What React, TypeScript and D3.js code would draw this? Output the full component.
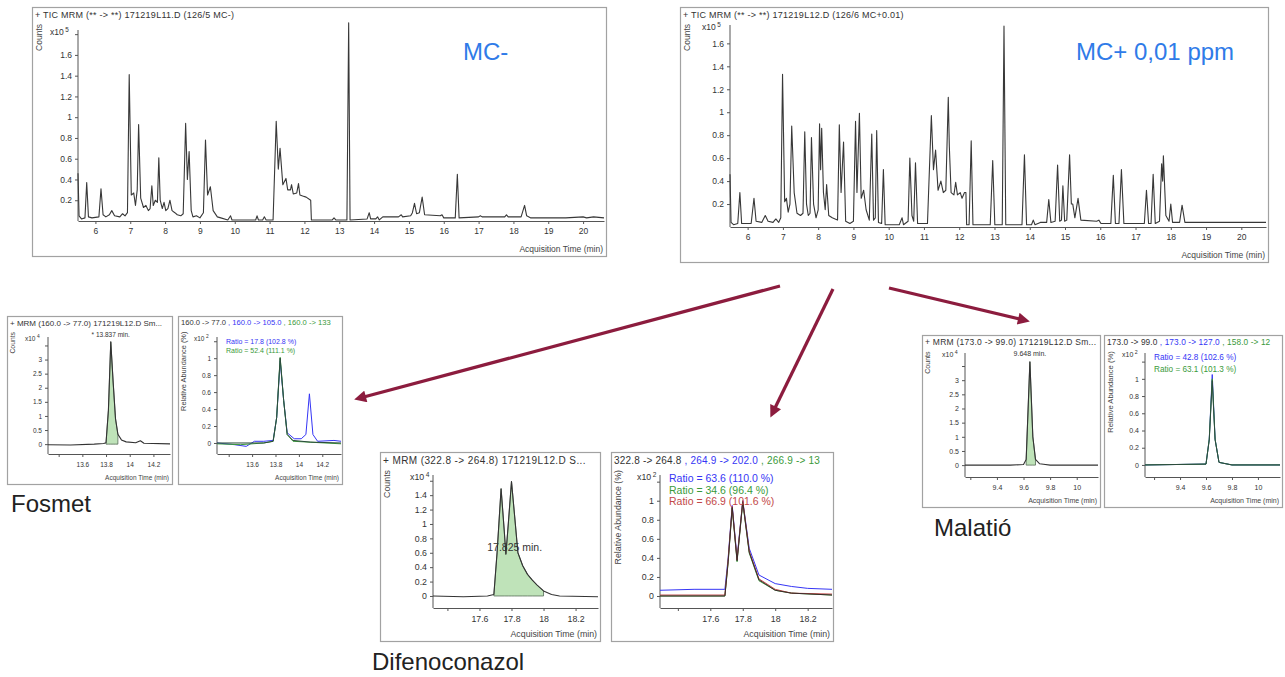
import React, { useRef, useEffect } from "react";
import * as d3 from "d3";

type Pt = [number, number];

// TIC traces: acquisition time (min), counts (x10^5)
const ticMinus: Pt[] = [
  [5.5, 0.46], [5.53, 0.05], [5.6, 0.02], [5.7, 0.03], [5.75, 0.37], [5.8, 0.04], [5.9, 0.03], [6.1, 0.04], [6.16, 0.31], [6.22, 0.06],
  [6.3, 0.04], [6.4, 0.06], [6.47, 0.1], [6.55, 0.05], [6.7, 0.04], [6.78, 0.07], [6.85, 0.05], [6.92, 0.08], [6.97, 1.41], [7.03, 0.25],
  [7.1, 0.27], [7.15, 0.15], [7.2, 0.3], [7.24, 0.93], [7.3, 0.22], [7.38, 0.13], [7.45, 0.15], [7.52, 0.1], [7.57, 0.12], [7.62, 0.34],
  [7.66, 0.15], [7.72, 0.2], [7.78, 0.18], [7.82, 0.61], [7.86, 0.2], [7.92, 0.12], [7.97, 0.18], [8.02, 0.1], [8.08, 0.12], [8.14, 0.2],
  [8.2, 0.1], [8.28, 0.08], [8.35, 0.06], [8.45, 0.05], [8.52, 0.07], [8.59, 0.94], [8.64, 0.4], [8.69, 0.67], [8.75, 0.1], [8.8, 0.04],
  [8.9, 0.05], [9.0, 0.03], [9.1, 0.08], [9.16, 0.78], [9.22, 0.25], [9.3, 0.33], [9.38, 0.1], [9.5, 0.04], [9.6, 0.03], [9.8, 0.01],
  [9.88, 0.05], [9.92, 0.01], [10.6, 0.01], [10.64, 0.05], [10.68, 0.01], [10.8, 0.01], [10.85, 0.04], [10.9, 0.01], [11.1, 0.01],
  [11.19, 0.96], [11.25, 0.5], [11.3, 0.7], [11.38, 0.35], [11.47, 0.41], [11.52, 0.3], [11.6, 0.3], [11.63, 0.35], [11.68, 0.26],
  [11.78, 0.27], [11.83, 0.36], [11.87, 0.25], [11.95, 0.24], [12.05, 0.23], [12.18, 0.2], [12.2, 0.01], [12.8, 0.01], [12.85, 0.03],
  [12.9, 0.01], [13.22, 0.01], [13.27, 1.91], [13.31, 0.01], [13.8, 0.02], [13.86, 0.08], [13.9, 0.02], [14.05, 0.02], [14.1, 0.04],
  [14.15, 0.01], [14.25, 0.04], [14.7, 0.04], [14.78, 0.06], [14.82, 0.04], [15.05, 0.05], [15.1, 0.08], [15.16, 0.17], [15.22, 0.07],
  [15.3, 0.08], [15.38, 0.23], [15.45, 0.06], [15.9, 0.05], [15.95, 0.06], [16.0, 0.03], [16.33, 0.03], [16.39, 0.45], [16.44, 0.03],
  [17.0, 0.04], [17.05, 0.05], [17.1, 0.04], [17.75, 0.04], [17.8, 0.06], [17.85, 0.04], [18.22, 0.04], [18.32, 0.15], [18.38, 0.05],
  [18.5, 0.03], [19.5, 0.03], [20.0, 0.04], [20.1, 0.03], [20.3, 0.04], [20.6, 0.03],
];
const ticPlus: Pt[] = [
  [5.5, 0.46], [5.53, 0.04], [5.6, 0.02], [5.72, 0.03], [5.78, 0.3], [5.83, 0.03], [6.1, 0.03], [6.18, 0.25], [6.24, 0.05], [6.4, 0.04],
  [6.5, 0.1], [6.58, 0.05], [6.72, 0.04], [6.8, 0.07], [6.88, 0.04], [6.94, 0.08], [6.99, 1.33], [7.05, 0.22], [7.1, 0.25], [7.15, 0.13],
  [7.2, 0.2], [7.25, 0.88], [7.32, 0.3], [7.4, 0.12], [7.5, 0.1], [7.57, 0.12], [7.62, 0.83], [7.67, 0.2], [7.72, 0.1], [7.77, 0.12],
  [7.81, 0.78], [7.87, 0.2], [7.94, 0.08], [8.0, 0.15], [8.04, 0.9], [8.07, 0.5], [8.1, 0.86], [8.15, 0.3], [8.2, 0.15], [8.24, 0.37],
  [8.3, 0.1], [8.4, 0.08], [8.48, 0.07], [8.55, 0.06], [8.6, 0.89], [8.65, 0.3], [8.72, 0.74], [8.78, 0.05], [8.9, 0.03], [9.0, 0.05],
  [9.06, 0.92], [9.1, 0.3], [9.17, 0.99], [9.22, 0.25], [9.29, 0.32], [9.36, 0.15], [9.45, 0.06], [9.52, 0.81], [9.57, 0.06], [9.62, 0.08],
  [9.66, 0.84], [9.71, 0.04], [9.8, 0.03], [9.85, 0.5], [9.9, 0.02], [10.3, 0.02], [10.38, 0.08], [10.42, 0.02], [10.55, 0.05], [10.6, 0.6],
  [10.66, 0.1], [10.71, 0.05], [10.76, 0.56], [10.82, 0.03], [11.1, 0.03], [11.21, 0.97], [11.27, 0.5], [11.33, 0.67], [11.4, 0.32],
  [11.48, 0.4], [11.55, 0.3], [11.62, 0.32], [11.69, 1.13], [11.72, 0.7], [11.77, 0.3], [11.85, 0.28], [11.9, 0.39], [11.95, 0.28],
  [12.03, 0.3], [12.08, 0.25], [12.15, 0.3], [12.19, 0.3], [12.21, 0.02], [12.28, 0.02], [12.34, 0.75], [12.39, 0.02], [12.88, 0.02],
  [12.95, 0.58], [13.01, 0.02], [13.22, 0.02], [13.27, 1.75], [13.32, 0.02], [13.78, 0.02], [13.85, 0.63], [13.91, 0.02], [14.05, 0.02],
  [14.1, 0.06], [14.15, 0.02], [14.3, 0.04], [14.48, 0.04], [14.54, 0.24], [14.6, 0.04], [14.72, 0.05], [14.79, 0.54], [14.85, 0.05],
  [14.9, 0.06], [14.94, 0.36], [14.99, 0.05], [15.05, 0.06], [15.13, 0.63], [15.18, 0.2], [15.22, 0.2], [15.28, 0.08], [15.37, 0.25],
  [15.45, 0.06], [15.9, 0.05], [15.96, 0.06], [16.02, 0.03], [16.3, 0.03], [16.37, 0.45], [16.43, 0.03], [16.53, 0.03], [16.6, 0.5],
  [16.67, 0.03], [17.25, 0.03], [17.31, 0.32], [17.37, 0.03], [17.44, 0.03], [17.5, 0.46], [17.56, 0.03], [17.68, 0.05], [17.74, 0.55],
  [17.77, 0.4], [17.79, 0.62], [17.86, 0.1], [17.95, 0.05], [18.0, 0.2], [18.05, 0.04], [18.25, 0.04], [18.32, 0.19], [18.4, 0.04],
  [20.7, 0.04],
];
const ticTimeTicks = [6, 7, 8, 9, 10, 11, 12, 13, 14, 15, 16, 17, 18, 19, 20];
const ticCountTicks = [0.2, 0.4, 0.6, 0.8, 1, 1.2, 1.4, 1.6];

// Fosmet (x10^4 counts / x10^2 %)
const fosmetQuant: Pt[] = [
  [13.31, -0.02], [13.5, -0.03], [13.7, 0], [13.78, 0.02], [13.8, 0.05], [13.82, 1.2], [13.84, 3.63], [13.86, 2.2], [13.88, 0.9],
  [13.9, 0.35], [13.93, 0.15], [13.97, 0.08], [14.05, 0.05], [14.09, 0.12], [14.12, 0.03], [14.34, 0.01],
];
const fosmetRel: Pt[] = [
  [13.3, 0], [13.7, 0], [13.78, 0.02], [13.81, 0.3], [13.84, 1.0], [13.87, 0.5], [13.9, 0.1], [13.95, 0.03], [14.1, 0.01], [14.36, 0],
];
const fosmetQ1: Pt[] = [
  [13.3, 0], [13.45, -0.02], [13.55, -0.04], [13.62, 0.02], [13.7, 0.02], [13.78, 0.03], [13.81, 0.3], [13.84, 0.97], [13.87, 0.5],
  [13.9, 0.12], [13.96, 0.05], [14.02, 0.05], [14.06, 0.1], [14.09, 0.58], [14.12, 0.1], [14.16, 0.02], [14.3, 0.03], [14.36, 0.02],
];
const fosmetQ2: Pt[] = [
  [13.3, -0.01], [13.5, -0.02], [13.7, 0], [13.78, 0.02], [13.81, 0.3], [13.84, 1.01], [13.87, 0.5], [13.9, 0.1], [13.95, 0.02], [14.36, -0.01],
];
const fosmetTimeTicks = [13.6, 13.8, 14, 14.2];

// Difenoconazol
const difenQuant: Pt[] = [
  [17.31, 0], [17.5, -0.01], [17.65, 0], [17.69, 0.02], [17.71, 0.6], [17.735, 1.49], [17.755, 0.9], [17.765, 0.58], [17.78, 1.0],
  [17.8, 1.59], [17.82, 1.1], [17.84, 0.6], [17.87, 0.42], [17.9, 0.3], [17.93, 0.22], [17.96, 0.15], [18.0, 0.07], [18.05, 0.02],
  [18.1, 0], [18.34, -0.01],
];
const difenRel: Pt[] = [
  [17.29, 0], [17.69, 0], [17.71, 0.36], [17.735, 0.93], [17.765, 0.37], [17.8, 0.99], [17.84, 0.46], [17.9, 0.17], [18.0, 0.06], [18.1, 0.03], [18.35, 0.01],
];
const difenQ1: Pt[] = [
  [17.29, 0.06], [17.5, 0.07], [17.69, 0.07], [17.71, 0.4], [17.735, 0.95], [17.765, 0.4], [17.8, 1.0], [17.84, 0.5], [17.9, 0.22],
  [18.0, 0.13], [18.1, 0.1], [18.2, 0.08], [18.35, 0.07],
];
const difenQ2: Pt[] = [
  [17.29, 0], [17.69, 0], [17.71, 0.35], [17.735, 0.92], [17.765, 0.36], [17.8, 0.98], [17.84, 0.45], [17.9, 0.16], [18.0, 0.06], [18.1, 0.03], [18.35, 0.01],
];
const difenQ3: Pt[] = [
  [17.29, 0.01], [17.69, 0.01], [17.71, 0.38], [17.735, 0.94], [17.765, 0.38], [17.8, 1.0], [17.84, 0.47], [17.9, 0.18], [18.0, 0.07], [18.1, 0.03], [18.35, 0.02],
];
const difenTimeTicks = [17.6, 17.8, 18, 18.2];

// Malatió
const malatQuant: Pt[] = [
  [9.16, 0], [9.5, 0], [9.6, 0.02], [9.62, 0.2], [9.648, 3.65], [9.67, 1.0], [9.69, 0.2], [9.72, 0.05], [9.75, 0.03], [9.8, 0], [10.16, 0],
];
const malatRel: Pt[] = [[9.13, 0], [9.6, 0.01], [9.625, 0.29], [9.648, 0.98], [9.67, 0.29], [9.7, 0.03], [9.8, 0], [10.17, 0]];
const malatQ1: Pt[] = [[9.13, 0], [9.6, 0.01], [9.625, 0.3], [9.648, 1.05], [9.67, 0.3], [9.7, 0.03], [9.8, 0], [10.17, 0]];
const malatQ2: Pt[] = [[9.13, 0], [9.6, 0.01], [9.625, 0.3], [9.648, 1.0], [9.67, 0.3], [9.7, 0.03], [9.8, 0], [10.17, 0]];
const malatTimeTicks = [9.4, 9.6, 9.8, 10];

const countTicks4 = [0, 0.5, 1, 1.5, 2, 2.5, 3];
const relTicks = [0, 0.2, 0.4, 0.6, 0.8, 1];
const difenCountTicks = [0, 0.2, 0.4, 0.6, 0.8, 1, 1.2, 1.4];

const FONT = "'Liberation Sans', Arial, sans-serif";
const DARK = "#333";
const BLUE = "#3535f5";
const GREEN = "#3a9a3a";
const RED = "#c24848";

const panels = [
  {
    box: [32, 7, 606, 256], plot: { left: 78, right: 604, top: 30, bottom: 221 },
    xDomain: [5.5, 20.6], yDomain: [0, 1.84], xTicks: ticTimeTicks, xBlank: [], yTicks: ticCountTicks, yBlank: [1.8],
    fs: 8.5, hs: 9, ls: 0.25, ts: 8.5, pad: 4, exp: "5", yTitle: "Counts",
    header: [{ t: "+ TIC MRM (** -> **) 171219L11.D (126/5 MC-)", c: DARK }],
    traces: [{ d: ticMinus, c: "#383838", w: 1.1 }],
  },
  {
    box: [680, 7, 1268, 262], plot: { left: 730, right: 1266, top: 25, bottom: 227 },
    xDomain: [5.5, 20.7], yDomain: [0, 1.76], xTicks: ticTimeTicks, xBlank: [], yTicks: ticCountTicks, yBlank: [],
    fs: 8.5, hs: 9, ls: 0.25, ts: 8.5, pad: 4, exp: "5", yTitle: "Counts",
    header: [{ t: "+ TIC MRM (** -> **) 171219L12.D (126/6 MC+0.01)", c: DARK }],
    traces: [{ d: ticPlus, c: "#383838", w: 1.1 }],
  },
  {
    box: [7, 316, 172, 484], plot: { left: 48, right: 170, top: 337, bottom: 454 },
    xDomain: [13.31, 14.34], yDomain: [-0.35, 3.8], xTicks: fosmetTimeTicks, xBlank: [13.4], yTicks: countTicks4, yBlank: [3.5],
    fs: 6.5, hs: 8, ls: 0, rs: 6.5, ts: 6.8, pad: 5, exp: "4", yTitle: "Counts",
    header: [{ t: "+ MRM (160.0 -> 77.0) 171219L12.D Sm...", c: DARK }],
    traces: [{ d: fosmetQuant, c: DARK, w: 1.1 }], fill: [13.8, 13.9],
    peak: { t: "* 13.837 min.", x: 13.84, y: 3.8 },
  },
  {
    box: [178, 316, 342, 484], plot: { left: 217, right: 341, top: 337, bottom: 454 },
    xDomain: [13.3, 14.36], yDomain: [-0.13, 1.25], xTicks: fosmetTimeTicks, xBlank: [13.4], yTicks: relTicks, yBlank: [1.2],
    fs: 6.5, hs: 7.6, ls: 0, rs: 7, ts: 7.4, pad: 5, exp: "2", yTitle: "Relative Abundance (%)",
    header: [{ t: "160.0 -> 77.0", c: DARK }, { t: " , 160.0 -> 105.0", c: BLUE }, { t: " , 160.0 -> 133", c: GREEN }],
    traces: [{ d: fosmetQ1, c: BLUE, w: 1 }, { d: fosmetQ2, c: GREEN, w: 1 }, { d: fosmetRel, c: "#2c4a3c", w: 1 }],
    ratios: [{ t: "Ratio = 17.8 (102.8 %)", c: BLUE }, { t: "Ratio = 52.4 (111.1 %)", c: GREEN }], rdy: 9,
  },
  {
    box: [380, 452, 600, 641], plot: { left: 433, right: 598, top: 475, bottom: 608 },
    xDomain: [17.31, 18.34], yDomain: [-0.167, 1.68], xTicks: difenTimeTicks, xBlank: [17.4], yTicks: difenCountTicks, yBlank: [1.6],
    fs: 8.8, hs: 10, ls: 0.4, rs: 10.5, ts: 8.8, pad: 5, exp: "4", yTitle: "Counts",
    header: [{ t: "+ MRM (322.8 -> 264.8) 171219L12.D S...", c: DARK }],
    traces: [{ d: difenQuant, c: DARK, w: 1.1 }], fill: [17.69, 18.0],
    peak: { t: "17.825 min.", x: 17.82, y: 0.62 },
  },
  {
    box: [611, 452, 833, 641], plot: { left: 660, right: 832, top: 475, bottom: 608 },
    xDomain: [17.29, 18.35], yDomain: [-0.126, 1.27], xTicks: difenTimeTicks, xBlank: [17.4], yTicks: relTicks, yBlank: [1.2],
    fs: 8.8, hs: 10, ls: 0.2, rs: 10.5, ts: 8.8, pad: 5, exp: "2", yTitle: "Relative Abundance (%)",
    header: [{ t: "322.8 -> 264.8", c: DARK }, { t: " , 264.9 -> 202.0", c: BLUE }, { t: " , 266.9 -> 13", c: GREEN }],
    traces: [{ d: difenQ1, c: BLUE, w: 1 }, { d: difenQ2, c: GREEN, w: 1 }, { d: difenQ3, c: RED, w: 1 }, { d: difenRel, c: "#3a2a2a", w: 1 }],
    ratios: [{ t: "Ratio = 63.6 (110.0 %)", c: BLUE }, { t: "Ratio = 34.6 (96.4 %)", c: GREEN }, { t: "Ratio = 66.9 (101.6 %)", c: RED }], rdy: 11.5,
  },
  {
    box: [922, 335, 1100, 507], plot: { left: 965, right: 1098, top: 353, bottom: 477 },
    xDomain: [9.16, 10.16], yDomain: [-0.42, 3.96], xTicks: malatTimeTicks, xBlank: [9.2], yTicks: countTicks4, yBlank: [3.5],
    fs: 7, hs: 8.5, ls: 0.25, rs: 7, ts: 7, pad: 5, exp: "4", yTitle: "Counts",
    header: [{ t: "+ MRM (173.0 -> 99.0) 171219L12.D Sm...", c: DARK }],
    traces: [{ d: malatQuant, c: DARK, w: 1.1 }], fill: [9.62, 9.69],
    peak: { t: "9.648 min.", x: 9.648, y: 3.85 },
  },
  {
    box: [1104, 335, 1282, 507], plot: { left: 1145, right: 1280, top: 353, bottom: 477 },
    xDomain: [9.13, 10.17], yDomain: [-0.14, 1.3], xTicks: malatTimeTicks, xBlank: [9.2], yTicks: relTicks, yBlank: [1.2],
    fs: 7, hs: 8.3, ls: 0.1, rs: 8.2, ts: 7.6, pad: 5, exp: "2", yTitle: "Relative Abundance (%)",
    header: [{ t: "173.0 -> 99.0", c: DARK }, { t: " , 173.0 -> 127.0", c: BLUE }, { t: " , 158.0 -> 12", c: GREEN }],
    traces: [{ d: malatQ1, c: BLUE, w: 1 }, { d: malatQ2, c: GREEN, w: 1 }, { d: malatRel, c: "#2c4a3c", w: 1 }],
    ratios: [{ t: "Ratio = 42.8 (102.6 %)", c: BLUE }, { t: "Ratio = 63.1 (101.3 %)", c: GREEN }], rdy: 12,
  },
];

const arrows = [
  [780, 286, 360, 398],
  [833, 289, 773, 412],
  [889, 288, 1024, 320],
];

const titles = [
  { t: "MC-", x: 463, y: 60, c: "#2f7be8" },
  { t: "MC+ 0,01 ppm", x: 1076, y: 60, c: "#2f7be8" },
  { t: "Fosmet", x: 11, y: 512, c: "#222" },
  { t: "Difenoconazol", x: 372, y: 670, c: "#222" },
  { t: "Malatió", x: 934, y: 536, c: "#222" },
];

export default function App() {
  const ref = useRef<SVGSVGElement | null>(null);

  useEffect(() => {
    if (!ref.current) return;
    const svg = d3.select(ref.current);
    svg.selectAll("*").remove();

    panels.forEach((p: any, i) => drawPanel(svg, p, i));

    // arrows
    const defs = svg.append("defs");
    defs.append("marker").attr("id", "head").attr("viewBox", "0 0 10 10")
      .attr("refX", 5).attr("refY", 5).attr("markerUnits", "userSpaceOnUse")
      .attr("markerWidth", 14).attr("markerHeight", 12).attr("orient", "auto")
      .append("path").attr("d", "M0,0 L10,5 L0,10 z").attr("fill", "#8c1c3e");
    svg.append("g").selectAll("line").data(arrows).join("line")
      .attr("x1", d => d[0]).attr("y1", d => d[1]).attr("x2", d => d[2]).attr("y2", d => d[3])
      .attr("stroke", "#8c1c3e").attr("stroke-width", 3.2).attr("marker-end", "url(#head)");

    svg.append("g").selectAll("text").data(titles).join("text")
      .attr("x", d => d.x).attr("y", d => d.y).attr("fill", d => d.c)
      .attr("font-family", FONT).attr("font-size", 24).text(d => d.t);
  }, []);

  return (
    <div style={{ position: "absolute", left: 0, top: 0 }}>
      <svg ref={ref} width={1285} height={677} style={{ display: "block", background: "#fff" }} />
    </div>
  );
}

function drawPanel(svg: any, p: any, i: number) {
  const [bx0, by0, bx1, by1] = p.box;
  const g = svg.append("g");
  g.append("rect").attr("x", bx0 + 0.5).attr("y", by0 + 0.5)
    .attr("width", bx1 - bx0).attr("height", by1 - by0)
    .attr("fill", "#fff").attr("stroke", "#a2a2a2").attr("stroke-width", 1.2);
  g.append("clipPath").attr("id", "clip" + i).append("rect")
    .attr("x", bx0 + 1).attr("y", by0 + 1).attr("width", bx1 - bx0 - 1).attr("height", by1 - by0 - 1);
  const c = g.append("g").attr("clip-path", `url(#clip${i})`);

  const x = d3.scaleLinear().domain(p.xDomain).range([p.plot.left, p.plot.right]);
  const y = d3.scaleLinear().domain(p.yDomain).range([p.plot.bottom, p.plot.top]);

  const styleAxis = (a: any) => {
    a.selectAll("text").attr("font-size", p.fs).attr("font-family", FONT).attr("fill", "#333");
    a.selectAll("line,path").attr("stroke", "#555");
  };

  const xa = c.append("g").attr("transform", `translate(0,${p.plot.bottom})`)
    .call(d3.axisBottom(x).tickValues([...p.xTicks, ...p.xBlank]).tickSize(3).tickSizeOuter(0)
      .tickPadding(p.pad).tickFormat((d: any) => (p.xBlank.includes(+d) ? "" : String(d))));
  styleAxis(xa);

  const ya = c.append("g").attr("transform", `translate(${p.plot.left},0)`)
    .call(d3.axisLeft(y).tickValues([...p.yTicks, ...p.yBlank]).tickSize(3).tickSizeOuter(0)
      .tickPadding(3).tickFormat((d: any) => (p.yBlank.includes(+d) ? "" : String(d))));
  styleAxis(ya);
  ya.select(".domain").attr("d", `M0,${p.plot.bottom}V${p.plot.top}`);

  // header
  const h = c.append("text").attr("x", bx0 + 3).attr("y", by0 + p.hs + 1.5)
    .attr("font-family", FONT).attr("font-size", p.hs).attr("letter-spacing", p.ls);
  p.header.forEach((s: any) => h.append("tspan").attr("fill", s.c).text(s.t));

  // y title, exponent
  c.append("text").attr("transform", `translate(${bx0 + p.ts + 1},${by0 + p.hs + 8}) rotate(-90)`)
    .attr("text-anchor", "end").attr("font-family", FONT).attr("font-size", p.ts)
    .attr("fill", "#444").text(p.yTitle);
  const e = c.append("text").attr("x", p.plot.left - (p.exp === "5" ? 28 : 23)).attr("y", p.plot.top + p.fs * 0.6)
    .attr("font-family", FONT).attr("font-size", p.fs).attr("fill", "#333");
  e.append("tspan").text("x10");
  e.append("tspan").attr("dx", 1.5).attr("dy", -p.fs * 0.4).attr("font-size", p.fs * 0.75).text(p.exp);

  c.append("text").attr("x", bx1 - 3).attr("y", by1 - 4).attr("text-anchor", "end")
    .attr("font-family", FONT).attr("font-size", p.fs).attr("fill", "#444").text("Acquisition Time (min)");

  const line = d3.line<Pt>().x(d => x(d[0])).y(d => y(d[1]));

  if (p.fill) {
    const seg = p.traces[0].d.filter((d: Pt) => d[0] >= p.fill[0] && d[0] <= p.fill[1]);
    const area = d3.area<Pt>().x(d => x(d[0])).y0(y(0)).y1(d => y(d[1]));
    c.append("path").attr("d", area(seg)).attr("fill", "#bfe3b9").attr("stroke", "#556b55").attr("stroke-width", 0.8);
  }

  p.traces.forEach((t: any) => {
    c.append("path").attr("d", line(t.d)).attr("fill", "none")
      .attr("stroke", t.c).attr("stroke-width", t.w).attr("stroke-linejoin", "round");
  });

  if (p.peak) {
    c.append("text").attr("x", x(p.peak.x)).attr("y", y(p.peak.y)).attr("text-anchor", "middle")
      .attr("font-family", FONT).attr("font-size", p.rs).attr("fill", "#333").text(p.peak.t);
  }

  if (p.ratios) {
    p.ratios.forEach((r: any, k: number) => {
      c.append("text").attr("x", p.plot.left + 9).attr("y", p.plot.top + 7 + k * p.rdy)
        .attr("font-family", FONT).attr("font-size", p.rs).attr("fill", r.c).text(r.t);
    });
  }
}
